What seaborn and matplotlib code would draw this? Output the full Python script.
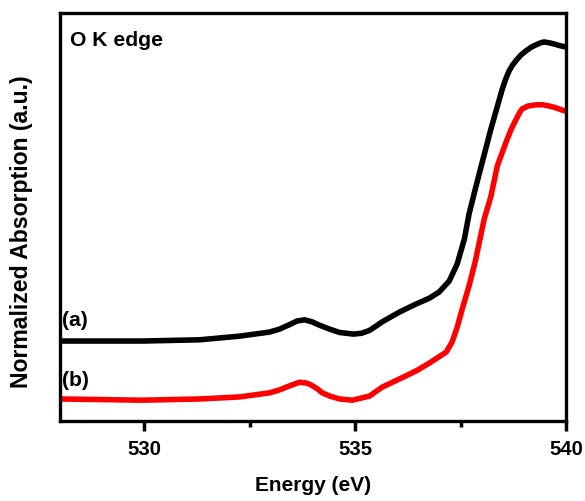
import matplotlib
matplotlib.use("Agg")
import matplotlib.pyplot as plt
import seaborn as sns
import pandas as pd
from matplotlib.ticker import MultipleLocator

# Energy (eV) and normalized absorption
energy_a = [528.00, 529.96, 531.31, 532.26, 532.97, 533.20, 533.44, 533.62, 533.80,
            533.98, 534.15, 534.40, 534.63, 534.96, 535.15, 535.34, 535.50, 535.64,
            536.05, 536.45, 536.76, 536.99, 537.23, 537.42, 537.59, 537.70, 537.85,
            537.99, 538.22, 538.49, 538.57, 538.65, 538.73, 538.82, 538.93, 539.05,
            539.17, 539.29, 539.40, 539.48, 539.60, 539.72, 539.85, 539.98]
absorb_a = [0.196, 0.196, 0.199, 0.208, 0.218, 0.225, 0.236, 0.245, 0.248,
            0.243, 0.235, 0.225, 0.217, 0.213, 0.215, 0.222, 0.233, 0.243,
            0.267, 0.287, 0.301, 0.316, 0.343, 0.385, 0.446, 0.507, 0.569,
            0.625, 0.716, 0.814, 0.838, 0.858, 0.872, 0.884, 0.897, 0.907,
            0.916, 0.922, 0.927, 0.929, 0.927, 0.924, 0.920, 0.917]

energy_b = [528.00, 529.96, 531.31, 532.26, 532.97, 533.20, 533.44, 533.68, 533.85,
            533.96, 534.10, 534.22, 534.40, 534.63, 534.93, 535.34, 535.64, 536.05,
            536.45, 536.76, 537.16, 537.30, 537.42, 537.54, 537.70, 537.85, 538.06,
            538.22, 538.37, 538.58, 538.70, 538.82, 538.90, 538.96, 539.10, 539.29,
            539.45, 539.60, 539.75, 539.91, 539.98]
absorb_b = [0.054, 0.051, 0.054, 0.059, 0.069, 0.076, 0.086, 0.095, 0.093,
            0.088, 0.079, 0.069, 0.061, 0.054, 0.051, 0.061, 0.083, 0.103,
            0.123, 0.142, 0.169, 0.194, 0.230, 0.275, 0.331, 0.392, 0.495,
            0.551, 0.625, 0.684, 0.715, 0.740, 0.756, 0.765, 0.772, 0.775,
            0.775, 0.772, 0.768, 0.762, 0.760]

series_labels = ["(a)", "(b)"]
series_colors = ["#000000", "#ff0000"]
x_ticks = [530, 535, 540]

df = pd.concat([
    pd.DataFrame({"Energy": energy_a, "Abs": absorb_a, "sample": series_labels[0]}),
    pd.DataFrame({"Energy": energy_b, "Abs": absorb_b, "sample": series_labels[1]}),
])

sns.set_style("white")
plt.rcParams["font.family"] = ["Liberation Sans", "DejaVu Sans"]
plt.rcParams["font.weight"] = "bold"
plt.rcParams["text.color"] = "black"
plt.rcParams["axes.labelcolor"] = "black"
plt.rcParams["xtick.color"] = "black"
plt.rcParams["ytick.color"] = "black"

fig = plt.figure(figsize=(5.85, 5.02), dpi=100)
ax = fig.add_axes([60/585, 80/502, 506/585, 408/502])

sns.lineplot(data=df, x="Energy", y="Abs", hue="sample",
             palette=dict(zip(series_labels, series_colors)),
             linewidth=4.0, legend=False, ax=ax, sort=False)

ax.set_xlim(528, 540)
ax.set_ylim(0, 1)
ax.set_xticks(x_ticks)
ax.xaxis.set_minor_locator(MultipleLocator(2.5))
ax.set_yticks([])
ax.tick_params(axis="x", which="major", direction="out", length=7, width=2.5,
               labelsize=14.7, pad=6, bottom=True, colors="black")
ax.tick_params(axis="x", which="minor", direction="out", length=4.5, width=2.5,
               bottom=True, colors="black")
for lbl in ax.get_xticklabels():
    lbl.set_fontweight("bold")
for sp in ax.spines.values():
    sp.set_visible(True)
    sp.set_linewidth(2.4)
    sp.set_color("black")

ax.set_xlabel("Energy (eV)", fontsize=15, fontweight="bold", labelpad=12, color="black")
ax.set_ylabel("Normalized Absorption (a.u.)", fontsize=16.6, fontweight="bold", color="black")
ax.yaxis.set_label_coords(-0.053, 0.466)

ax.text(0.02, 0.935, "O K edge", transform=ax.transAxes, fontsize=15.2,
        fontweight="bold", va="center", ha="left", color="black")
ax.text(0.004, (422-320)/408, "(a)", transform=ax.transAxes, fontsize=15.2,
        fontweight="bold", va="center", ha="left", color="black")
ax.text(0.004, (422-381)/408, "(b)", transform=ax.transAxes, fontsize=15.2,
        fontweight="bold", va="center", ha="left", color="black")

fig.savefig("out.png", dpi=100)
